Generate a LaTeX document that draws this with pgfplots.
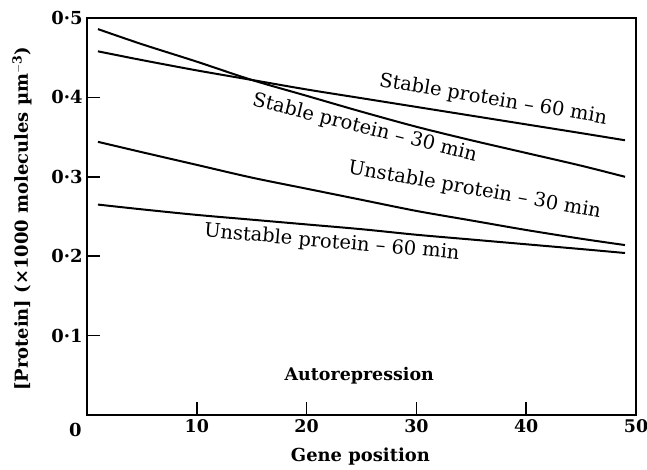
\documentclass[border=0pt]{standalone}
\usepackage{pgfplots}
\pgfplotsset{compat=1.18}
\usepackage{fontspec}
\setmainfont{DejaVu Serif}
\begin{document}
\begin{tikzpicture}
\begin{axis}[
  scale only axis,
  width=549bp, height=397bp,
  xmin=0, xmax=50, ymin=0, ymax=0.5,
  axis line style={line width=1.8bp},
  xtick={10,20,30,40,50},
  ytick={0.1,0.2,0.3,0.4,0.5},
  yticklabels={0·1,0·2,0·3,0·4,0·5},
  tick align=inside,
  xtick pos=bottom, ytick pos=left,
  major tick length=13bp,
  tick style={line width=1.5bp, black},
  /pgf/number format/assume math mode=true,
  ticklabel style={font=\fontsize{18}{20}\selectfont\bfseries},
  xticklabel style={yshift=-1bp, font=\fontsize{17.5}{20}\selectfont\bfseries},
  yticklabel style={xshift=-1bp},
  clip=false,
]
\addplot[black, line width=2bp, smooth] coordinates {
(1,0.486) (5,0.467) (10,0.445) (15,0.422) (20,0.402) (25,0.382) (30,0.363) (35,0.346) (40,0.330) (45,0.314) (49,0.300)};
\addplot[black, line width=2bp, smooth] coordinates {
(1,0.458) (5,0.447) (10,0.434) (15,0.422) (20,0.410) (25,0.399) (30,0.388) (35,0.377) (40,0.366) (45,0.355) (49,0.346)};
\addplot[black, line width=2bp, smooth] coordinates {
(1,0.344) (5,0.331) (10,0.315) (15,0.299) (20,0.285) (25,0.271) (30,0.257) (35,0.245) (40,0.233) (45,0.222) (49,0.214)};
\addplot[black, line width=2bp, smooth] coordinates {
(1,0.265) (5,0.259) (10,0.252) (15,0.246) (20,0.240) (25,0.234) (30,0.227) (35,0.221) (40,0.215) (45,0.209) (49,0.204)};
\node[font=\fontsize{19.5}{21}\selectfont, rotate=-9.5] at (axis cs:37.0,0.397) {Stable protein – 60 min};
\node[font=\fontsize{19.5}{21}\selectfont, rotate=-14] at (axis cs:25.3,0.361) {Stable protein – 30 min};
\node[font=\fontsize{19.5}{21}\selectfont, rotate=-10] at (axis cs:35.3,0.283) {Unstable protein – 30 min};
\node[font=\fontsize{19.5}{21}\selectfont, rotate=-5] at (axis cs:22.3,0.217) {Unstable protein – 60 min};
\node[font=\fontsize{17.5}{20}\selectfont\bfseries] at (axis cs:24.8,0.05) {Autorepression};
\node[font=\fontsize{18}{20}\selectfont\bfseries, anchor=north east] at ([yshift=-5bp, xshift=-2bp]axis cs:0,0) {0};
\node[font=\fontsize{18}{20}\selectfont\bfseries] at ([yshift=-42bp]axis cs:24.9,0) {Gene position};
\node[font=\fontsize{18}{20}\selectfont\bfseries, rotate=90] at ([xshift=-65bp]axis description cs:0,0.494) {[Protein] (×1000 molecules µm$^{\mathbf{-3}}$)};
\end{axis}
\pgfresetboundingbox
\path[use as bounding box] ([xshift=-87bp,yshift=-55bp]current axis.south west) rectangle ([xshift=11bp,yshift=18bp]current axis.north east);
\end{tikzpicture}
\end{document}
